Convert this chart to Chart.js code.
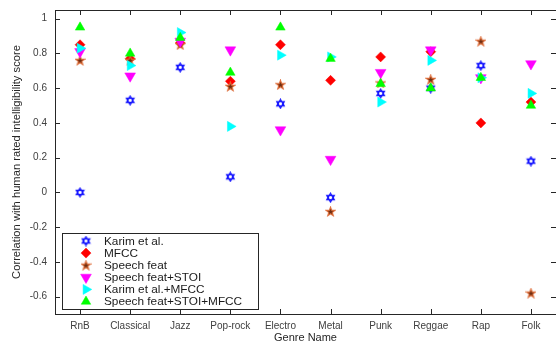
<!DOCTYPE html>
<html><head><meta charset="utf-8">
<script src="https://cdn.jsdelivr.net/npm/chart.js@4"></script>
<style>html,body{margin:0;padding:0;overflow:hidden;background:#fff}#wrap{width:556px;height:343px;position:relative}</style>
</head><body><div id="wrap"><canvas id="c" width="556" height="343"></canvas></div>
<script>
const genres = ['RnB','Classical','Jazz','Pop-rock','Electro','Metal','Punk','Reggae','Rap','Folk'];
const karim      = [0.00, 0.53, 0.72, 0.09, 0.51, -0.03, 0.57, 0.60, 0.73, 0.18];
const mfcc       = [0.85, 0.77, 0.86, 0.64, 0.85, 0.645, 0.78, 0.81, 0.40, 0.52];
const speechFeat = [0.76, 0.76, 0.85, 0.61, 0.62, -0.11, 0.63, 0.65, 0.87, -0.58];
const speechStoi = [0.81, 0.67, 0.87, 0.82, 0.36, 0.19, 0.69, 0.82, 0.66, 0.74];
const karimMfcc  = [0.83, 0.73, 0.92, 0.38, 0.79, 0.78, 0.52, 0.76, 0.66, 0.57];
const stoiMfcc   = [0.95, 0.80, 0.89, 0.69, 0.95, 0.77, 0.625, 0.60, 0.66, 0.50];
const yTicks = [-0.6, -0.4, -0.2, 0, 0.2, 0.4, 0.6, 0.8, 1];
const labels = ['Karim et al.','MFCC','Speech feat','Speech feat+STOI','Karim et al.+MFCC','Speech feat+STOI+MFCC'];

function hexagram(){
  const c=document.createElement('canvas');c.width=11;c.height=11;
  const g=c.getContext('2d');g.strokeStyle='#1414ff';g.lineWidth=1.3;
  const cx=5.5,cy=5.5,r=4.3;
  for(const off of [-Math.PI/2, Math.PI/2]){
    g.beginPath();
    for(let k=0;k<3;k++){const a=off+k*2*Math.PI/3;const x=cx+r*Math.cos(a),y=cy+r*Math.sin(a);k?g.lineTo(x,y):g.moveTo(x,y);}
    g.closePath();g.stroke();
  }
  return c;
}
function pentagram(){
  const c=document.createElement('canvas');c.width=11;c.height=11;
  const g=c.getContext('2d');
  const cx=5.5,cy=5.8,R=4.7,r=1.9;
  g.beginPath();
  for(let k=0;k<10;k++){const a=-Math.PI/2+k*Math.PI/5;const rr=k%2?r:R;const x=cx+rr*Math.cos(a),y=cy+rr*Math.sin(a);k?g.lineTo(x,y):g.moveTo(x,y);}
  g.closePath();g.fillStyle='#6e2e12';g.fill();g.strokeStyle='#dd6a35';g.lineWidth=1.1;g.stroke();
  return c;
}
const hex=hexagram(), pent=pentagram();

function pts(arr){return arr.map((v,i)=>({x:i+1,y:v}));}
const series=[karim,mfcc,speechFeat,speechStoi,karimMfcc,stoiMfcc];
const styles=[
  {pointStyle:hex,radius:5,rotation:0,bg:'#1414ff',bc:'#1414ff'},
  {pointStyle:'rectRot',radius:5,rotation:0,bg:'#ff0000',bc:'#ff0000'},
  {pointStyle:pent,radius:5,rotation:0,bg:'#6e2e12',bc:'#dd6a35'},
  {pointStyle:'triangle',radius:6.2,rotation:180,bg:'#ff00ff',bc:'#ff00ff'},
  {pointStyle:'triangle',radius:5.8,rotation:90,bg:'#00ffff',bc:'#00ffff'},
  {pointStyle:'triangle',radius:5.5,rotation:0,bg:'#00ff00',bc:'#00ff00'}
];
const datasets=series.map((s,i)=>({
  label:labels[i],data:pts(s),showLine:false,order:6-i,
  pointStyle:styles[i].pointStyle,pointRadius:styles[i].radius,pointRotation:styles[i].rotation,
  backgroundColor:styles[i].bg,borderColor:styles[i].bc,borderWidth:0.5,pointHoverRadius:styles[i].radius
}));

const FONT='"Liberation Sans", Arial, sans-serif';
const boxPlugin={id:'box',afterDatasetsDraw(chart){
  const {ctx,chartArea:a,scales:{x,y}}=chart;
  ctx.save();ctx.strokeStyle='#262626';ctx.lineWidth=1;
  ctx.strokeRect(Math.round(a.left)+0.5,Math.round(a.top)+0.5,Math.round(a.right-a.left),Math.round(a.bottom-a.top));
  const L=5;
  ctx.beginPath();
  for(let i=1;i<=genres.length;i++){const px=Math.round(x.getPixelForValue(i))+0.5;
    ctx.moveTo(px,a.bottom);ctx.lineTo(px,a.bottom-L);ctx.moveTo(px,a.top);ctx.lineTo(px,a.top+L);}
  for(const v of yTicks){const py=Math.round(y.getPixelForValue(v))+0.5;
    ctx.moveTo(a.left,py);ctx.lineTo(a.left+L,py);ctx.moveTo(a.right,py);ctx.lineTo(a.right-L,py);}
  ctx.stroke();
  // legend
  const lx=62,ly=233,lw=196,lh=76;
  ctx.fillStyle='#fff';ctx.fillRect(lx,ly,lw,lh);
  ctx.strokeStyle='#262626';ctx.strokeRect(lx+0.5,ly+0.5,lw,lh);
  ctx.font='11.8px '+FONT;ctx.textBaseline='middle';
  chart.data.datasets.forEach((d,i)=>{
    const cy=ly+8+i*12.1;
    ctx.fillStyle=d.backgroundColor;ctx.strokeStyle=d.borderColor;ctx.lineWidth=0.5;
    Chart.helpers.drawPoint(ctx,{pointStyle:d.pointStyle,radius:d.pointRadius,rotation:d.pointRotation,borderWidth:0.5},86,cy);
    ctx.fillStyle='#1a1a1a';ctx.fillText(d.label,104,cy+0.5);
  });
  ctx.restore();
}};

new Chart(document.getElementById('c'),{
  type:'scatter',
  data:{datasets},
  options:{
    responsive:false,animation:false,
    layout:{autoPadding:false,padding:{top:10,right:-2,left:0,bottom:0}},
    plugins:{legend:{display:false},tooltip:{enabled:false}},
    scales:{
      x:{type:'linear',min:0.5,max:10.5,
        afterBuildTicks(s){s.ticks=genres.map((g,i)=>({value:i+1}));},
        afterFit(s){s.height=29;s.paddingLeft=0;s.paddingRight=0;},
        grid:{display:false,drawTicks:false},border:{display:false},
        ticks:{padding:6,maxRotation:0,autoSkip:false,color:'#404040',font:{family:FONT,size:10},callback:(v)=>genres[Math.round(v)-1]},
        title:{display:true,text:'Genre Name',color:'#262626',font:{family:FONT,size:11,lineHeight:1},padding:{top:0,bottom:0}}
      },
      y:{type:'linear',min:-0.7,max:1.05,
        afterBuildTicks(s){s.ticks=yTicks.map(v=>({value:v}));},
        afterFit(s){s.width=55;s.paddingTop=0;s.paddingBottom=0;},
        grid:{display:false,drawTicks:false},border:{display:false},
        ticks:{padding:8,color:'#404040',font:{family:FONT,size:10},callback:(v)=>String(Math.round(v*10)/10)},
        title:{display:true,text:'Correlation with human rated intelligibility score',color:'#262626',font:{family:FONT,size:11.2},padding:{top:10,bottom:0}}
      }
    }
  },
  plugins:[boxPlugin]
});
</script></body></html>
